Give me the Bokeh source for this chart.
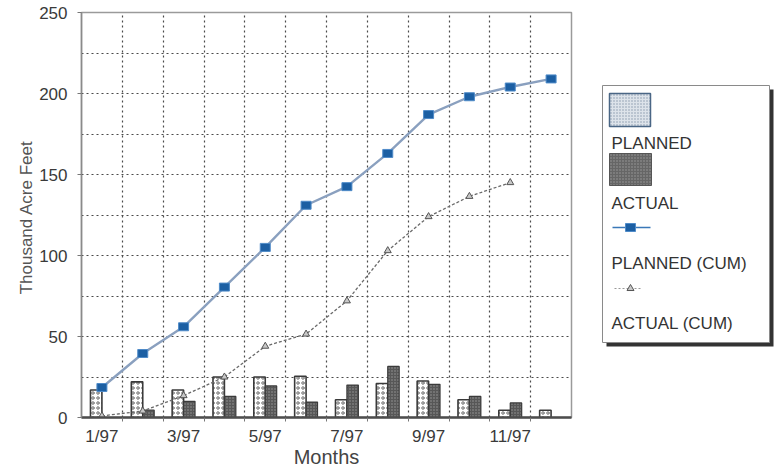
from bokeh.plotting import figure
from bokeh.layouts import row
from bokeh.models import ColumnDataSource, FixedTicker, Range1d
from bokeh.transform import dodge
from bokeh.embed import file_html
from bokeh.resources import INLINE
from bokeh.core.properties import value

# ---- data (thousand acre feet per month, 1997) ----
months = list(range(1, 13))
month_tick_labels = {1: "1/97", 3: "3/97", 5: "5/97", 7: "7/97", 9: "9/97", 11: "11/97"}
planned = [17, 22, 17, 25, 25, 25.5, 11, 21, 22.5, 11, 4.5, 4.5]
actual = [0, 4.5, 10, 13, 19.5, 9.5, 20, 31.5, 20.5, 13, 9, 0]
planned_cum = [18.5, 39.5, 56, 80.5, 105, 131, 142.5, 163, 187, 198, 204, 209]
actual_cum_months = list(range(1, 12))
actual_cum = [1, 4, 13.5, 25, 44, 51.5, 72, 103, 124, 136.5, 145]
legend_labels = ["PLANNED", "ACTUAL", "PLANNED (CUM)", "ACTUAL (CUM)"]

FONT = "Liberation Sans"

p = figure(width=600, height=470, x_range=Range1d(0.5, 12.5), y_range=Range1d(0, 250),
           output_backend="svg", toolbar_location=None,
           min_border_left=81, min_border_right=29, min_border_top=12, min_border_bottom=53)
p.background_fill_color = "white"
p.border_fill_color = "white"
p.outline_line_color = "#9a9a9a"
p.outline_line_width = 1.5

# grid: dotted lines every 25 units and between months
p.ygrid.ticker = FixedTicker(ticks=list(range(25, 251, 25)))
p.xgrid.ticker = FixedTicker(ticks=[m + 0.5 for m in months[:-1]])
for g in (p.xgrid, p.ygrid):
    g.grid_line_color = "#4a4a4a"
    g.grid_line_dash = "2 3"
    g.grid_line_width = 1.2

# y axis
p.yaxis.ticker = FixedTicker(ticks=list(range(0, 251, 50)))
p.yaxis.axis_label = "Thousand  Acre Feet"
p.yaxis.axis_label_text_font = FONT
p.yaxis.axis_label_text_font_size = "17px"
p.yaxis.axis_label_text_font_style = "normal"
p.yaxis.axis_label_text_color = "#555555"
p.yaxis.axis_label_standoff = 0
p.yaxis.major_label_text_font = FONT
p.yaxis.major_label_text_font_size = "17px"
p.yaxis.major_label_text_color = "#3a3a3a"
p.yaxis.major_label_standoff = 10
p.yaxis.axis_line_color = "#8a8a8a"
p.yaxis.axis_line_width = 1.5
p.yaxis.major_tick_out = 4
p.yaxis.major_tick_in = 0
p.yaxis.major_tick_line_color = "#777777"
p.yaxis.minor_tick_line_color = None

# x axis: labels on odd months, small ticks between months
p.xaxis.ticker = FixedTicker(ticks=list(month_tick_labels.keys()),
                             minor_ticks=[m + 0.5 for m in months[:-1]])
p.xaxis.major_label_overrides = month_tick_labels
p.xaxis.axis_label = "Months"
p.xaxis.axis_label_text_font = FONT
p.xaxis.axis_label_text_font_size = "20px"
p.xaxis.axis_label_text_font_style = "normal"
p.xaxis.axis_label_text_color = "#444444"
p.xaxis.axis_label_standoff = -3
p.xaxis.major_label_text_font = FONT
p.xaxis.major_label_text_font_size = "17px"
p.xaxis.major_label_text_color = "#3a3a3a"
p.xaxis.major_label_standoff = 3
p.xaxis.axis_line_color = "#4d4d4d"
p.xaxis.axis_line_width = 2.5
p.xaxis.major_tick_line_color = None
p.xaxis.minor_tick_out = 4
p.xaxis.minor_tick_in = 0
p.xaxis.minor_tick_line_color = "#777777"

# monthly bars
plan_src = ColumnDataSource(dict(month=months, value=planned))
act_m = [m for m, v in zip(months, actual) if v > 0]
act_v = [v for v in actual if v > 0]
act_src = ColumnDataSource(dict(month=act_m, value=act_v))

p.vbar(x=dodge("month", -0.14), top="value", bottom=0, width=0.28, source=plan_src,
       fill_color="white", line_color="#3a3a3a", line_width=1.6,
       hatch_pattern="ring", hatch_color="#6a6a6a", hatch_scale=5, hatch_weight=1)
p.vbar(x=dodge("month", 0.14), top="value", bottom=0, width=0.28, source=act_src,
       fill_color="#575757", line_color="#3a3a3a", line_width=1.2,
       hatch_pattern="dot", hatch_color="#9a9a9a", hatch_scale=3, hatch_weight=1)

# cumulative lines
p.line(actual_cum_months, actual_cum, line_color="#6a6a6a", line_width=1.3, line_dash="3 2")
p.scatter(actual_cum_months, actual_cum, marker="triangle", size=7,
          fill_color="#c8c8c8", line_color="#555555", line_width=1)

p.line(months, planned_cum, line_color="#8aa0bf", line_width=2.4)
p.rect(months, planned_cum, width=10, height=8, width_units="screen", height_units="screen",
       fill_color="#1c5fa3", line_color="#4f8bc9", line_width=1)

# ---- legend panel (drawn in page pixel coordinates) ----
# the row aligns this frame with the chart frame, which spans y = 12..417
leg = figure(width=181, height=470, x_range=Range1d(600, 781), y_range=Range1d(417, 12),
             output_backend="svg", toolbar_location=None,
             x_axis_location=None, y_axis_location=None,
             min_border_left=0, min_border_right=0,
             min_border_top=12, min_border_bottom=53)
leg.outline_line_color = None
leg.xgrid.visible = False
leg.ygrid.visible = False
leg.background_fill_color = "white"
leg.border_fill_color = "white"

# box with drop shadow
leg.quad(left=[606], right=[773], top=[89], bottom=[346], fill_color="#333333", line_color=None)
leg.quad(left=[602], right=[769], top=[85], bottom=[342], fill_color="white",
         line_color="#8a8a8a", line_width=1)

# swatches
leg.quad(left=[609], right=[650], top=[93], bottom=[126], fill_color="#dde3ea",
         line_color="#4a6685", line_width=1.5,
         hatch_pattern="dot", hatch_color="#8797ab", hatch_scale=3, hatch_weight=1)
leg.quad(left=[609], right=[651], top=[153], bottom=[185], fill_color="#666666",
         line_color="#555555", line_width=1,
         hatch_pattern="dot", hatch_color="#9c9c9c", hatch_scale=3, hatch_weight=1)
leg.line([612, 650], [227, 227], line_color="#3a78b8", line_width=1.5)
leg.rect([630], [227], width=10, height=8, width_units="screen", height_units="screen",
         fill_color="#1c5fa3", line_color="#4f8bc9", line_width=1)
leg.line([614, 640], [288, 288], line_color="#999999", line_width=1.2, line_dash="2 2")
leg.scatter([630], [288], marker="triangle", size=7, fill_color="#c8c8c8",
            line_color="#555555", line_width=1)

leg.text(x=[611] * 4, y=[143, 203, 263, 323], text=legend_labels,
         text_font=value(FONT), text_font_size="17px", text_color="#333333",
         text_baseline="middle", text_align="left")

layout = row(p, leg)
open("out.html", "w").write(file_html(layout, INLINE))
